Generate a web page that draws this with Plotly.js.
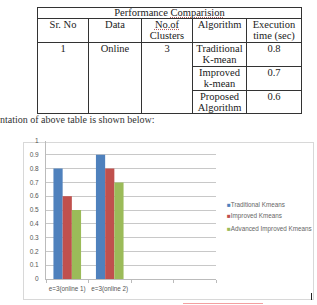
<!DOCTYPE html>
<html>
<head>
<meta charset="utf-8">
<script src="https://cdn.plot.ly/plotly-3.0.1.min.js"></script>
<style>
  html, body { margin:0; padding:0; background:#fff; width:317px; height:305px; overflow:hidden; }
  #tbl { position:absolute; left:37px; top:7px; border-collapse:collapse; font-family:"Liberation Serif","DejaVu Serif",serif; font-size:10.5px; color:#222; table-layout:fixed; }
  #tbl td { border:1px solid #333; text-align:center; vertical-align:top; padding:0; line-height:11px; overflow:hidden; white-space:nowrap; box-sizing:border-box; }
  .sp { text-decoration: underline dotted #b06060; }
  #caption { position:absolute; left:0; top:114px; font-family:"Liberation Serif","DejaVu Serif",serif; font-size:10px; color:#333; white-space:nowrap; }
  #frame { position:absolute; left:23px; top:142px; width:289px; height:156px; border:1px solid #d8d8d8; }
  #chart { position:absolute; left:0; top:0; width:317px; height:305px; }
  #redline { position:absolute; left:183px; top:303px; width:80px; height:1px; background:#f4a0a0; }
  #cursor { position:absolute; left:311px; top:293px; width:1px; height:7px; background:#222; }
</style>
</head>
<body>
<table id="tbl"></table>
<div id="caption">ntation of above table is shown below:</div>
<div id="frame"></div>
<div id="redline"></div>
<div id="cursor"></div>
<div id="chart"></div>
<script>
// ---- table data ----
var tableTitle = "Performance Comparision";
var tableHeaders = ["Sr. No", "Data", "No.of<br>Clusters", "Algorithm", "Execution<br>time (sec)"];
var srNo = "1";
var dataName = "Online";
var clusters = "3";
var algorithms = ["Traditional<br>K-mean", "Improved<br>k-mean", "Proposed<br>Algorithm"];
var execTimes = ["0.8", "0.7", "0.6"];

// ---- chart data ----
var categories = ["e=3(online 1)", "e=3(online 2)", " ", "  "];
var seriesNames = ["Traditional Kmeans", "Improved Kmeans", "Advanced Improved Kmeans"];
var traditional = [0.8, 0.9, null, null];
var improved = [0.6, 0.8, null, null];
var advanced = [0.5, 0.7, null, null];
var colors = ["#4F81BD", "#C0504D", "#9BBB59"];

// build table
(function(){
  var t = document.getElementById('tbl');
  var colW = [51, 53, 51, 54, 55];
  var html = '<colgroup>' + colW.map(function(w){return '<col style="width:'+w+'px">';}).join('') + '</colgroup>';
  html += '<tr><td colspan="5" style="height:11px;line-height:10px">Performance <span class="sp">Comparision</span></td></tr>';
  html += '<tr>' + tableHeaders.map(function(h,i){
    return '<td style="height:24px">' + (i===2 ? '<span class="sp">No.of</span><br>Clusters' : h) + '</td>';
  }).join('') + '</tr>';
  var hs = [24, 24, 22];
  for (var i=0;i<algorithms.length;i++){
    html += '<tr>';
    if (i===0) {
      html += '<td rowspan="3">'+srNo+'</td><td rowspan="3">'+dataName+'</td><td rowspan="3">'+clusters+'</td>';
    }
    html += '<td style="height:'+hs[i]+'px">'+algorithms[i]+'</td><td style="height:'+hs[i]+'px">'+execTimes[i]+'</td></tr>';
  }
  t.innerHTML = html;
})();

var vals = [traditional, improved, advanced];
var traces = vals.map(function(v,i){
  return { type:'bar', x:categories, y:v, name:seriesNames[i], marker:{color:colors[i]}, showlegend:false, hoverinfo:'none' };
});

var legendY = [0.543, 0.453, 0.362];
var annotations = seriesNames.map(function(n,i){
  return { xref:'paper', yref:'paper', x:1.055, y:legendY[i], xanchor:'left', yanchor:'middle', showarrow:false,
           text:'<span style="color:'+colors[i]+'">■</span>'+n,
           font:{family:'Liberation Sans, Arial, sans-serif', size:6.3, color:'#666'} };
});

var layout = {
  width:317, height:305,
  margin:{l:46, r:101, t:141, b:26, pad:0},
  paper_bgcolor:'rgba(0,0,0,0)', plot_bgcolor:'rgba(0,0,0,0)',
  barmode:'group', bargap:0.35, bargroupgap:0,
  showlegend:false,
  xaxis:{ type:'category', categoryorder:'array', categoryarray:categories, tickson:'boundaries', tickangle:0,
          ticks:'outside', ticklen:3, tickcolor:'#bbb', showline:true, linecolor:'#bbb', linewidth:1, ticklabelstandoff:3,
          showgrid:false, tickfont:{family:'Liberation Sans, Arial, sans-serif', size:6.3, color:'#555'}, fixedrange:true },
  yaxis:{ range:[0,1], dtick:0.1, showline:true, linecolor:'#bbb', linewidth:1, ticks:'',
          gridcolor:'#c8c8c8', gridwidth:1, zeroline:false, ticklabelstandoff:5,
          tickfont:{family:'Liberation Sans, Arial, sans-serif', size:6.5, color:'#555'}, fixedrange:true },
  annotations:annotations
};

Plotly.newPlot('chart', traces, layout, {staticPlot:true, displayModeBar:false});
</script>
</body>
</html>
